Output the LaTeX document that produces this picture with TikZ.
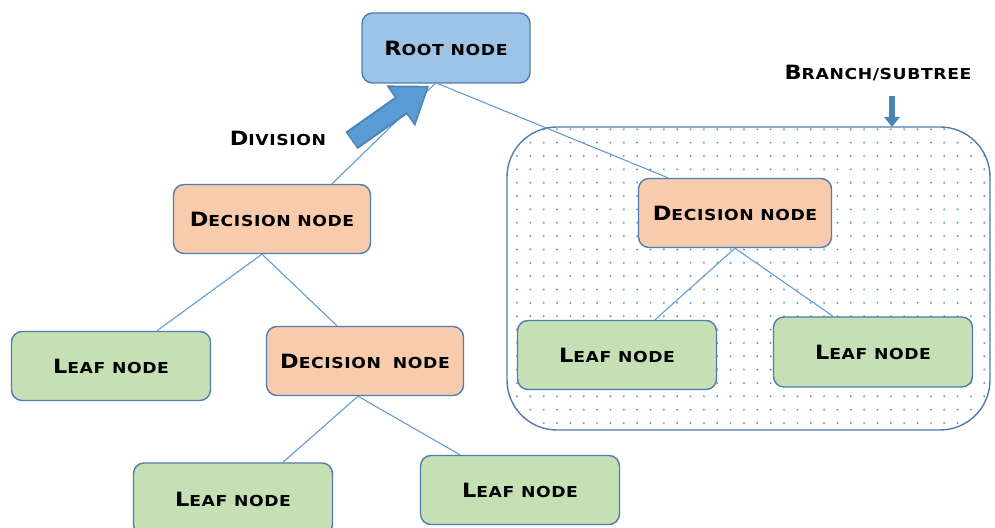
\documentclass[tikz,border=0pt]{standalone}
\usepackage{fontspec}
\usepackage{tikz}
\usetikzlibrary{arrows.meta}
\newfontfamily\cpfont[FakeStretch=1.14,LetterSpace=4]{DejaVu Sans}
\newcommand{\capsc}[2]{{\cpfont\bfseries\fontsize{11.2}{13}\selectfont #1\fontsize{8.6}{10}\selectfont #2}}
\definecolor{rootfill}{HTML}{9DC3E6}
\definecolor{decfill}{HTML}{F8CBAD}
\definecolor{leaffill}{HTML}{C5E0B4}
\definecolor{boxline}{HTML}{4F7DB0}
\definecolor{edgeblue}{HTML}{5B9BD5}
\definecolor{dotblue}{HTML}{6A96CF}

\begin{document}
\begin{tikzpicture}[
    box/.style={draw=boxline, line width=0.8pt, rounded corners=6pt, inner sep=0pt},
    rootbox/.style={box, fill=rootfill, minimum width=3.36cm, minimum height=1.4cm},
    decbox/.style={box, fill=decfill, minimum width=3.94cm, minimum height=1.38cm},
    leafbox/.style={box, fill=leaffill, minimum width=3.98cm, minimum height=1.38cm},
    edge/.style={draw=edgeblue, line width=0.6pt},
    label/.style={inner sep=0pt}
]
    \useasboundingbox (0,0) rectangle (19.9,10.54);
    \fill[white] (0,0) rectangle (19.9,10.54);

    % subtree area
    \begin{scope}
        \clip[rounded corners=1cm] (10.14,1.94) rectangle (19.80,8.00);
        \foreach \i in {0,...,36}
            \foreach \j in {0,...,22}
                \fill[dotblue] (10.34+\i*0.267, 2.08+\j*0.267) circle (0.022);
    \end{scope}
    \draw[boxline, line width=0.8pt, rounded corners=1cm] (10.14,1.94) rectangle (19.80,8.00);

    \node[rootbox] (root) at (8.92,9.58) {\capsc{R}{OOT NODE}};
    \node[decbox] (dl) at (5.44,6.16) {\capsc{D}{ECISION NODE}\hspace{0.15cm}};
    \node[leafbox] (ll) at (2.22,3.22) {\capsc{L}{EAF NODE}\hspace{0.3cm}};
    \node[decbox] (dm) at (7.30,3.32) {\capsc{D}{ECISION}\ \ \capsc{}{NODE}};
    \node[leafbox, minimum height=1.44cm] (lbl) at (4.66,0.56) {\capsc{L}{EAF NODE}\hspace{0.25cm}};
    \node[leafbox] (lbr) at (10.40,0.74) {\capsc{L}{EAF NODE}};
    \node[decbox, minimum width=3.86cm] (dr) at (14.70,6.28) {\capsc{D}{ECISION NODE}};
    \node[leafbox] (lsl) at (12.34,3.44) {\capsc{L}{EAF NODE}\hspace{0.15cm}};
    \node[leafbox, minimum height=1.40cm] (lsr) at (17.46,3.50) {\capsc{L}{EAF NODE}};

    \node[label] (division) at (5.56,7.78) {\capsc{D}{IVISION}};
    \node[label] (branch) at (17.56,9.08) {\capsc{B}{RANCH/SUBTREE}};

    \draw[edge] ([xshift=-0.22cm]root.south) -- ([xshift=1.2cm]dl.north);
    \draw[edge] ([xshift=-0.16cm]root.south) -- ([xshift=-1.34cm]dr.north);
    \draw[edge] ([xshift=-0.2cm]dl.south) -- ([xshift=0.92cm]ll.north);
    \draw[edge] ([xshift=-0.2cm]dl.south) -- ([xshift=-0.56cm]dm.north);
    \draw[edge] ([xshift=-0.14cm]dm.south) -- ([xshift=1.0cm]lbl.north);
    \draw[edge] ([xshift=-0.14cm]dm.south) -- ([xshift=-1.2cm]lbr.north);
    \draw[edge] (dr.south) -- ([xshift=0.76cm]lsl.north);
    \draw[edge] (dr.south) -- ([xshift=-0.8cm]lsr.north);

    \coordinate (divtail) at ([xshift=0.5cm,yshift=-0.05cm]division.east);
    \coordinate (divtip) at ([xshift=1.36cm,yshift=-0.04cm]root.south west);
    \draw[edgeblue!85!black, line width=0.42cm, -{Triangle[length=0.7cm,width=0.95cm]}]
        (divtail) -- (divtip);
    \draw[edgeblue, line width=0.34cm, -{Triangle[length=0.62cm,width=0.82cm]}, shorten >=0.05cm, shorten <=0.03cm]
        (divtail) -- (divtip);

    \coordinate (subtop) at (17.84,8.00);
    \draw[edgeblue!85!black, line width=0.12cm, -{Triangle[length=0.2cm,width=0.3cm]}]
        ([xshift=0.28cm,yshift=-0.3cm]branch.south) -- (subtop);
\end{tikzpicture}
\end{document}
